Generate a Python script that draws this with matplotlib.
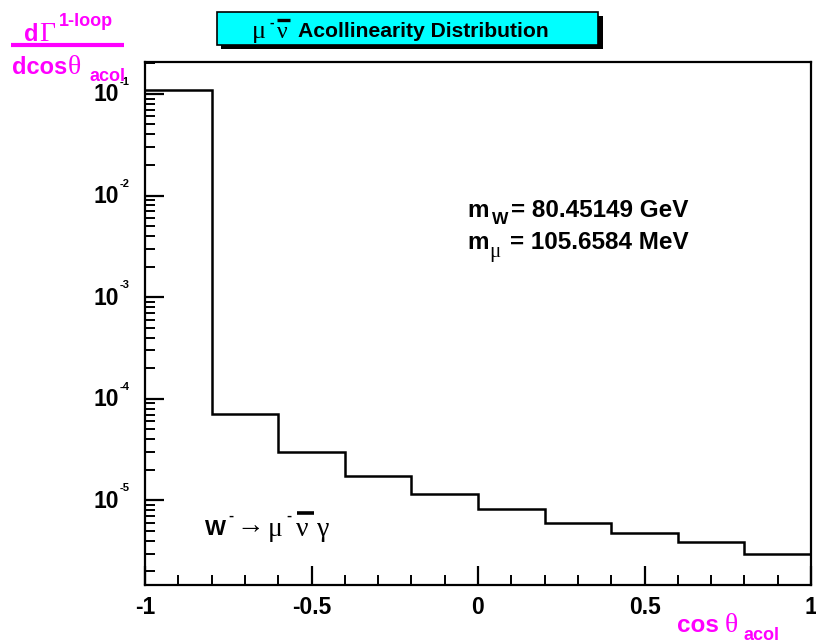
import matplotlib
matplotlib.use('Agg')
import matplotlib.pyplot as plt
from matplotlib.lines import Line2D
from matplotlib.patches import Rectangle
from matplotlib.ticker import MultipleLocator, LogLocator, NullFormatter

# bin edges of cos(theta_acol) and the 1-loop differential width per bin
edges = [-1.0, -0.8, -0.6, -0.4, -0.2, 0.0, 0.2, 0.4, 0.6, 0.8, 1.0]
values = [0.109, 7.16e-5, 3.0e-5, 1.72e-5, 1.16e-5, 8.2e-6, 6.03e-6, 4.74e-6, 3.86e-6, 2.96e-6]

xticks = [-1, -0.5, 0, 0.5, 1]
xticklabels = ['-1', '-0.5', '0', '0.5', '1']
ydecades = [1e-1, 1e-2, 1e-3, 1e-4, 1e-5]
yexponents = ['-1', '-2', '-3', '-4', '-5']

W, H = 816, 644
MAGENTA = '#ff00ff'
SANS = 'Liberation Sans'
SERIF = ['Liberation Serif', 'DejaVu Serif']

fig = plt.figure(figsize=(W / 100, H / 100), dpi=100)
fig.patch.set_facecolor('white')

# axes box in pixels: left 145, right 811, top 62, bottom 585
ax = fig.add_axes([145 / W, 1 - 585 / H, (811 - 145) / W, (585 - 62) / H])
ax.stairs(values, edges, baseline=None, color='black', lw=1.8)
ax.set_yscale('log')
ax.set_xlim(-1, 1)
ax.set_ylim(1.47e-6, 0.206)

for sp in ax.spines.values():
    sp.set_linewidth(1.6)

ax.xaxis.set_major_locator(MultipleLocator(0.5))
ax.xaxis.set_minor_locator(MultipleLocator(0.1))
ax.set_xticks(xticks)
ax.set_xticklabels(xticklabels, fontfamily=SANS, fontweight='bold', fontsize=16.5)
ax.tick_params(axis='x', which='major', direction='in', length=14, width=1.6, pad=8)
ax.tick_params(axis='x', which='minor', direction='in', length=7, width=1.4)

ax.yaxis.set_major_locator(LogLocator(base=10, numticks=20))
ax.yaxis.set_minor_locator(LogLocator(base=10, subs=range(2, 10), numticks=20))
ax.yaxis.set_minor_formatter(NullFormatter())
ax.tick_params(axis='y', which='both', labelleft=False)
ax.tick_params(axis='y', which='major', direction='in', length=14, width=1.6)
ax.tick_params(axis='y', which='minor', direction='in', length=7, width=1.4)

# ROOT-style y labels: "10" with a small raised exponent
ytrans = ax.get_yaxis_transform()
for v, e in zip(ydecades, yexponents):
    ax.annotate('10', xy=(0, v), xycoords=ytrans, xytext=(-26 * 0.72, -1 * 0.72),
                textcoords='offset points', ha='right', va='center',
                fontfamily=SANS, fontweight='bold', fontsize=16.5)
    ax.annotate(e, xy=(0, v), xycoords=ytrans, xytext=(-25 * 0.72, 12 * 0.72),
                textcoords='offset points', ha='left', va='center',
                fontfamily=SANS, fontweight='bold', fontsize=8)


def put(x, y, s, size, color='black', family=SANS, weight='bold', ha='left'):
    fig.text(x / W, 1 - y / H, s, fontsize=size, color=color, family=family,
             fontweight=weight, ha=ha, va='baseline')


def hbar(x0, x1, y, lw, color='black'):
    fig.add_artist(Line2D([x0 / W, x1 / W], [1 - y / H, 1 - y / H],
                          transform=fig.transFigure, color=color, lw=lw,
                          solid_capstyle='butt'))


# title box with shadow
fig.add_artist(Rectangle((221 / W, 1 - 49 / H), (603 - 221) / W, (49 - 16) / H,
                         transform=fig.transFigure, facecolor='black', edgecolor='none'))
fig.add_artist(Rectangle((217 / W, 1 - 45 / H), (598 - 217) / W, (45 - 12) / H,
                         transform=fig.transFigure, facecolor='#00ffff',
                         edgecolor='black', lw=1.2))
put(252, 38, 'μ', 19, family=SERIF, weight='normal')
put(269, 27, '-', 10)
put(277, 38, 'ν', 17, family=SERIF, weight='normal')
hbar(277, 290, 20, 2.4)
put(298, 37, 'Acollinearity Distribution', 15.2)

# y axis title (fraction)
put(24, 41, 'd', 17, color=MAGENTA)
put(39, 41, 'Γ', 20, color=MAGENTA, family=SERIF, weight='normal')
put(59, 26, '1-loop', 13, color=MAGENTA)
hbar(11, 124, 44.5, 3.0, color=MAGENTA)
put(12, 74, 'dcos', 17, color=MAGENTA)
put(68, 74, 'θ', 20, color=MAGENTA, family=SERIF, weight='normal')
put(89, 81, 'acol', 13, color=MAGENTA)

# x axis title
put(677, 632, 'cos', 17.5, color=MAGENTA)
put(725, 632, 'θ', 20, color=MAGENTA, family=SERIF, weight='normal')
put(744, 640, 'acol', 13, color=MAGENTA)

# masses
put(467, 217, 'm', 17.5)
put(492, 224, 'W', 12.5)
put(511, 217, '= 80.45149 GeV', 17.5)
put(467, 249, 'm', 17.5)
put(489, 257, 'μ', 15, family=SERIF, weight='normal')
put(510, 249, '= 105.6584 MeV', 17.5)

# process label
put(205, 535, 'W', 16)
put(228, 520, '-', 11)
put(236, 533, '→', 20, family=SERIF, weight='normal')
put(268, 536, 'μ', 20, family=SERIF, weight='normal')
put(286, 520, '-', 11)
put(296, 536, 'ν', 20, family=SERIF, weight='normal')
hbar(297, 314, 513, 2.6)
put(317, 536, 'γ', 20, family=SERIF, weight='normal')

fig.savefig('out.png', dpi=100)
